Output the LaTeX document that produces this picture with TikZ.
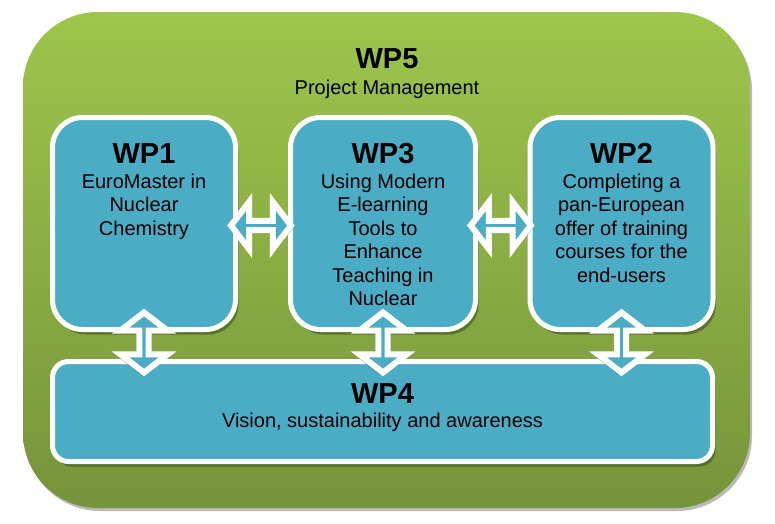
\documentclass[tikz,border=0pt]{standalone}
\usepackage{fontspec}
\setmainfont{Liberation Sans}
\usetikzlibrary{shapes.arrows,shadows,calc}
\definecolor{wpblue}{RGB}{75,172,198}
\definecolor{greentop}{RGB}{157,198,76}
\definecolor{greenbot}{RGB}{118,148,58}
\definecolor{shadowgreen}{RGB}{62,82,30}
\tikzset{
  outerbox/.style={rounded corners=75pt, minimum width=727pt, minimum height=496pt,
    top color=greentop, bottom color=greenbot, inner sep=0pt,
    drop shadow={shadow xshift=2pt, shadow yshift=-3pt, fill=gray!60, opacity=0.9}},
  wpbox/.style={draw=white, line width=5pt, fill=wpblue, rounded corners=30pt, inner sep=0pt,
    drop shadow={shadow xshift=3pt, shadow yshift=-5pt, fill=shadowgreen, opacity=0.6}},
  wpwide/.style={wpbox, rounded corners=16pt},
  link/.style={double arrow, draw=white, line width=6pt, fill=wpblue, inner sep=0pt,
    minimum height=60pt, minimum width=47pt, double arrow head extend=12.5pt,
    double arrow tip angle=105},
  hlink/.style={link,
    drop shadow={shadow xshift=2pt, shadow yshift=-3pt, fill=shadowgreen, opacity=0.5}},
  vlink/.style={link, rotate=90,
    drop shadow={shadow xshift=-3pt, shadow yshift=-2pt, fill=shadowgreen, opacity=0.5}},
  titletext/.style={font=\fontsize{29}{33}\selectfont\bfseries, inner sep=0pt, anchor=base},
  linetext/.style={font=\fontsize{20}{23.4}\selectfont, inner sep=0pt, anchor=base},
  bodytext/.style={font=\fontsize{20}{23.4}\selectfont, align=center, inner sep=0pt, anchor=north},
}
\begin{document}
\begin{tikzpicture}[x=1pt,y=-1pt]
\useasboundingbox (0,0) rectangle (775,523);
\node[outerbox] (wp5) at (386.5,260) {};
\node[titletext] (t5) at (387,68) {WP5};
\node[linetext] (pm) at (387,94) {Project Management};

\node[wpbox, minimum width=183pt, minimum height=212pt] (wp1) at (144,223.5) {};
\node[wpbox, minimum width=185pt, minimum height=212pt] (wp3) at (383,223.5) {};
\node[wpbox, minimum width=183pt, minimum height=212pt] (wp2) at (621.5,223.5) {};
\node[wpwide, minimum width=660pt, minimum height=100pt] (wp4) at (382.5,411.5) {};

\node[hlink] (a13) at ($(wp1.east)!0.5!(wp3.west)+(-2,2)$) {};
\node[hlink] (a32) at ($(wp3.east)!0.5!(wp2.west)+(-2,2)$) {};
\node[vlink] (a14) at ($(wp1.south)!0.5!(wp4.north -| wp1.south)+(0,-3)$) {};
\node[vlink] (a34) at ($(wp3.south)!0.5!(wp4.north -| wp3.south)+(0,-3)$) {};
\node[vlink] (a24) at ($(wp2.south)!0.5!(wp4.north -| wp2.south)+(0,-3)$) {};

\node[titletext] (t1) at (144,163) {WP1};
\node[bodytext] (b1) at (144,173.7) {EuroMaster in\\Nuclear\\Chemistry};
\node[titletext] (t3) at (383,163) {WP3};
\node[bodytext] (b3) at (383,173.7) {Using Modern\\E-learning\\Tools to\\Enhance\\Teaching in\\Nuclear};
\node[titletext] (t2) at (621.5,163) {WP2};
\node[bodytext] (b2) at (621.5,173.7) {Completing a\\pan-European\\offer of training\\courses for the\\end-users};
\node[titletext] (t4) at (382.5,403) {WP4};
\node[linetext] (b4) at (382.5,427) {Vision, sustainability and awareness};
\end{tikzpicture}
\end{document}
